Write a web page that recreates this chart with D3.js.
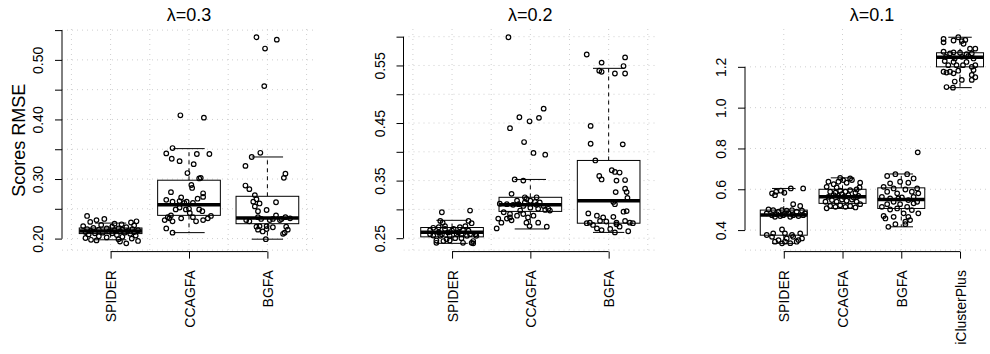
<!DOCTYPE html>
<html>
<head>
<meta charset="utf-8">
<script src="https://cdn.jsdelivr.net/npm/d3@7"></script>
<style>
  body { margin: 0; background: #fff; }
  svg { display: block; font-family: "Liberation Sans", Arial, Helvetica, sans-serif; }
</style>
</head>
<body>
<svg id="chart" width="990" height="354"></svg>
<script>
// #region data
const methods3 = ["SPIDER", "CCAGFA", "BGFA"];
const methods4 = ["SPIDER", "CCAGFA", "BGFA", "iClusterPlus"];
const panelTitles = ["λ=0.3", "λ=0.2", "λ=0.1"];
const yLabel = "Scores RMSE";

// y ticks (all) and the ones R kept a label for
const ticksL3 = [0.20, 0.25, 0.30, 0.35, 0.40, 0.45, 0.50, 0.55];
const labelsL3 = [0.20, 0.30, 0.40, 0.50];
const ticksL2 = [0.25, 0.30, 0.35, 0.40, 0.45, 0.50, 0.55, 0.60];
const labelsL2 = [0.25, 0.35, 0.45, 0.55];
const ticksL1 = [0.4, 0.6, 0.8, 1.0, 1.2];
const labelsL1 = [0.4, 0.6, 0.8, 1.0, 1.2];

// box stats per method: [lower whisker, q1, median, q3, upper whisker]
const boxL3 = [
  [0.198, 0.2084, 0.2128, 0.2178, 0.226],
  [0.210, 0.239, 0.257, 0.298, 0.351],
  [0.199, 0.225, 0.2346, 0.271, 0.337]
];
const boxL2 = [
  [0.241, 0.2523, 0.2605, 0.2685, 0.281],
  [0.266, 0.2965, 0.308, 0.321, 0.352],
  [0.260, 0.276, 0.315, 0.385, 0.545]
];
const boxL1 = [
  [0.335, 0.375, 0.4735, 0.498, 0.604],
  [0.506, 0.531, 0.563, 0.600, 0.656],
  [0.416, 0.506, 0.550, 0.607, 0.675],
  [1.098, 1.200, 1.247, 1.269, 1.345]
];

// jittered observations: [score, offset from category centre]
const l3Spider = [
  [0.238,-0.30],[0.233,-0.08],[0.231,-0.18],[0.229,0.33],[0.228,-0.26],[0.227,0.26],[0.225,0.05],
  [0.224,0.14],[0.223,-0.12],[0.222,0.30],[0.221,-0.35],[0.220,0.02],[0.219,0.20],[0.218,-0.22],
  [0.217,0.10],[0.217,-0.05],[0.216,0.28],[0.216,-0.30],[0.215,0.15],[0.215,-0.15],[0.214,0.05],
  [0.214,0.35],[0.213,-0.25],[0.213,0.22],[0.212,-0.02],[0.212,0.12],[0.211,-0.32],[0.211,0.30],
  [0.210,-0.10],[0.210,0.18],[0.209,0.02],[0.209,-0.20],[0.208,0.25],[0.207,-0.28],[0.206,0.08],
  [0.205,0.32],[0.204,-0.15],[0.203,0.15],[0.202,-0.05],[0.201,-0.32],[0.200,0.27],[0.199,0.10],
  [0.198,-0.25],[0.197,-0.18],[0.196,0.35],[0.195,0.12],[0.192,0.20]
];
const l3Ccagfa = [
  [0.407,-0.11],[0.403,0.19],[0.352,-0.21],[0.343,-0.29],[0.334,-0.22],[0.330,-0.12],[0.342,0.10],
  [0.342,0.26],[0.325,0.06],[0.310,-0.02],[0.301,0.13],[0.302,0.15],[0.290,0.03],[0.285,0.04],
  [0.278,-0.23],[0.276,0.18],[0.269,-0.10],[0.265,-0.29],[0.267,0.11],[0.270,0.18],[0.262,-0.21],
  [0.262,-0.03],[0.260,0.05],[0.252,-0.12],[0.249,-0.04],[0.249,0.13],[0.246,0.17],[0.243,0.01],
  [0.249,-0.17],[0.239,-0.23],[0.234,-0.10],[0.234,-0.25],[0.231,-0.31],[0.236,-0.27],[0.236,0.05],
  [0.234,0.24],[0.238,0.28],[0.229,0.09],[0.231,0.18],[0.217,-0.29],[0.210,-0.21],[0.250,0.00],
  [0.229,-0.21],[0.263,-0.12],[0.260,-0.06]
];
const l3Bgfa = [
  [0.538,-0.14],[0.534,0.12],[0.519,-0.03],[0.456,-0.04],[0.344,-0.09],[0.337,-0.20],[0.322,-0.28],
  [0.309,0.23],[0.302,0.21],[0.289,-0.28],[0.283,-0.23],[0.273,-0.16],[0.266,-0.14],[0.262,-0.18],
  [0.259,-0.10],[0.261,0.11],[0.246,-0.12],[0.248,-0.01],[0.231,-0.27],[0.229,-0.23],[0.233,-0.08],
  [0.233,0.07],[0.231,0.16],[0.236,0.23],[0.234,0.29],[0.221,-0.10],[0.221,-0.01],[0.219,0.07],
  [0.215,-0.12],[0.212,-0.06],[0.216,-0.01],[0.220,0.24],[0.215,0.26],[0.210,0.22],[0.208,0.20],
  [0.199,-0.02],[0.220,-0.14],[0.233,0.18],[0.239,0.11],[0.231,0.03],[0.254,-0.16],[0.236,-0.12]
];

const l2Spider = [
  [0.295,-0.13],[0.298,0.23],[0.280,-0.15],[0.277,-0.12],[0.280,0.21],[0.264,-0.28],[0.268,-0.24],
  [0.269,-0.17],[0.266,-0.09],[0.263,0.00],[0.260,0.08],[0.264,0.14],[0.276,0.25],[0.257,0.23],
  [0.254,0.31],[0.257,0.30],[0.2545,-0.24],[0.254,-0.15],[0.248,-0.07],[0.250,0.04],[0.250,0.12],
  [0.254,0.19],[0.245,0.27],[0.242,-0.20],[0.245,-0.11],[0.246,-0.03],[0.242,0.14],[0.242,0.25],
  [0.246,-0.20],[0.241,0.27],[0.257,-0.13],[0.260,-0.05],[0.271,-0.09],[0.266,0.02],[0.269,0.10],
  [0.271,0.17],[0.257,0.06],[0.254,-0.03],[0.257,-0.28],[0.263,0.21],[0.260,-0.17],[0.257,0.12]
];
const l2Ccagfa = [
  [0.599,-0.28],[0.475,0.17],[0.460,-0.14],[0.459,0.11],[0.453,-0.01],[0.441,-0.26],[0.417,-0.08],
  [0.398,0.04],[0.395,0.19],[0.352,-0.20],[0.350,-0.09],[0.327,-0.24],[0.321,-0.07],[0.318,-0.05],
  [0.315,0.00],[0.313,0.06],[0.310,-0.39],[0.309,-0.30],[0.308,-0.22],[0.309,-0.15],[0.306,-0.09],
  [0.308,0.08],[0.306,0.17],[0.301,0.23],[0.298,0.25],[0.295,-0.34],[0.292,-0.26],[0.289,-0.17],
  [0.292,-0.09],[0.286,-0.03],[0.289,0.04],[0.301,0.10],[0.299,0.19],[0.284,-0.30],[0.281,-0.24],
  [0.284,-0.41],[0.277,-0.37],[0.277,-0.05],[0.277,0.10],[0.267,-0.43],[0.271,-0.01],[0.270,0.21],
  [0.286,-0.26],[0.298,-0.13],[0.303,0.00],[0.315,-0.17],[0.321,0.08],[0.312,-0.07],[0.312,0.12]
];
const l2Bgfa = [
  [0.569,-0.28],[0.564,0.21],[0.555,-0.09],[0.549,0.19],[0.541,-0.12],[0.539,-0.09],[0.536,0.08],
  [0.536,0.21],[0.445,-0.23],[0.414,-0.23],[0.413,0.18],[0.385,-0.17],[0.358,-0.12],[0.352,-0.09],
  [0.368,0.04],[0.365,0.08],[0.364,0.14],[0.350,0.10],[0.351,0.21],[0.330,0.09],[0.336,0.21],
  [0.330,0.23],[0.309,0.08],[0.313,0.06],[0.320,0.24],[0.296,0.19],[0.297,0.23],[0.293,-0.26],
  [0.289,-0.15],[0.286,-0.07],[0.287,0.06],[0.276,-0.28],[0.273,-0.20],[0.280,-0.11],[0.279,-0.03],
  [0.277,0.10],[0.280,0.21],[0.277,0.27],[0.276,0.31],[0.267,-0.15],[0.264,-0.09],[0.266,0.02],
  [0.270,0.14],[0.260,0.08],[0.262,0.25],[0.277,-0.24],[0.274,0.10]
];

const l1Spider = [
  [0.580,-0.20],[0.588,-0.13],[0.593,-0.05],[0.583,0.01],[0.604,0.12],[0.604,0.33],[0.571,-0.15],
  [0.527,0.16],[0.518,0.28],[0.501,-0.26],[0.498,-0.18],[0.490,-0.09],[0.498,-0.03],[0.495,0.05],
  [0.498,0.14],[0.490,0.22],[0.495,0.31],[0.482,0.36],[0.482,-0.29],[0.473,-0.20],[0.478,-0.12],
  [0.473,-0.01],[0.482,0.08],[0.473,0.16],[0.469,0.25],[0.473,0.33],[0.465,-0.15],[0.469,-0.06],
  [0.465,0.11],[0.482,0.02],[0.376,-0.29],[0.384,-0.18],[0.403,-0.03],[0.384,0.02],[0.376,0.14],
  [0.384,0.28],[0.367,-0.20],[0.351,-0.09],[0.359,0.05],[0.367,0.16],[0.351,0.25],[0.343,-0.15],
  [0.335,-0.03],[0.336,0.11],[0.343,0.22],[0.359,0.31],[0.343,0.02]
];
const l1Ccagfa = [
  [0.507,-0.27],[0.518,-0.21],[0.514,-0.12],[0.522,-0.04],[0.514,0.05],[0.518,0.13],[0.511,0.22],
  [0.527,0.30],[0.539,-0.29],[0.547,-0.18],[0.539,-0.10],[0.550,-0.01],[0.544,0.07],[0.550,0.16],
  [0.539,0.24],[0.563,-0.24],[0.571,-0.15],[0.567,-0.07],[0.563,0.02],[0.571,0.10],[0.560,0.19],
  [0.567,0.27],[0.588,-0.21],[0.583,-0.12],[0.593,-0.04],[0.588,0.05],[0.596,0.13],[0.599,0.24],
  [0.609,0.29],[0.612,-0.27],[0.625,-0.15],[0.637,-0.07],[0.632,0.07],[0.645,0.16],[0.632,0.30],
  [0.637,-0.24],[0.656,-0.04],[0.653,0.13],[0.645,0.01],[0.609,-0.10],[0.583,0.22],[0.576,-0.01]
];
const l1Bgfa = [
  [0.781,0.28],[0.674,-0.10],[0.674,0.10],[0.665,-0.24],[0.653,0.21],[0.637,-0.02],[0.632,0.12],
  [0.629,-0.19],[0.612,-0.30],[0.604,-0.13],[0.599,0.07],[0.604,0.27],[0.588,0.18],[0.588,-0.24],
  [0.580,-0.07],[0.580,0.29],[0.563,-0.33],[0.555,-0.19],[0.560,0.01],[0.547,0.12],[0.531,0.21],
  [0.539,0.27],[0.539,-0.13],[0.527,-0.24],[0.527,-0.02],[0.514,0.10],[0.514,-0.33],[0.501,-0.19],
  [0.506,-0.07],[0.498,0.18],[0.482,0.29],[0.482,0.04],[0.469,-0.30],[0.465,-0.13],[0.465,0.12],
  [0.457,-0.27],[0.441,0.07],[0.449,0.15],[0.429,-0.10],[0.416,-0.22],[0.429,0.07],[0.555,-0.05],
  [0.563,0.21]
];
const l1Icluster = [
  [1.337,-0.28],[1.320,-0.28],[1.329,-0.11],[1.345,-0.03],[1.326,0.03],[1.332,0.09],[1.313,0.06],
  [1.289,0.17],[1.289,0.26],[1.274,-0.28],[1.266,-0.17],[1.271,-0.11],[1.269,0.00],[1.262,0.11],
  [1.266,0.20],[1.249,-0.24],[1.241,-0.09],[1.249,0.03],[1.252,0.14],[1.241,0.23],[1.228,-0.26],
  [1.224,-0.11],[1.208,0.05],[1.200,0.20],[1.208,0.26],[1.176,-0.28],[1.172,-0.23],[1.176,-0.17],
  [1.168,-0.11],[1.181,-0.03],[1.184,0.23],[1.160,0.20],[1.149,0.26],[1.136,0.20],[1.128,-0.09],
  [1.101,-0.23],[1.098,-0.12],[1.136,0.03],[1.224,0.11],[1.208,-0.06],[1.208,-0.20]
];
// #endregion


// #region layout
const panels = [
  { title: panelTitles[0], methods: methods3, stats: boxL3, points: [l3Spider, l3Ccagfa, l3Bgfa],
    ticks: ticksL3, labels: labelsL3, fmt: d3.format(".2f"), left: 62, right: 316 },
  { title: panelTitles[1], methods: methods3, stats: boxL2, points: [l2Spider, l2Ccagfa, l2Bgfa],
    ticks: ticksL2, labels: labelsL2, fmt: d3.format(".2f"), left: 403.5, right: 657.2 },
  { title: panelTitles[2], methods: methods4, stats: boxL1, points: [l1Spider, l1Ccagfa, l1Bgfa, l1Icluster],
    ticks: ticksL1, labels: labelsL1, fmt: d3.format(".1f"), left: 745, right: 998.8 }
];
const TOP = 29, BOTTOM = 251.6;
const TICK = 7;
const FONT_AXIS = 14, FONT_BIG = 18;
// #endregion


const svg = d3.select("#chart");

panels.forEach((p, pi) => DrawPanel(p, pi));

// y axis title, left of the first panel
svg.append("text")
  .attr("transform", "translate(18.5," + ((TOP + BOTTOM) / 2) + ") rotate(-90)")
  .attr("text-anchor", "middle")
  .attr("dy", "0.36em")
  .style("font-size", FONT_BIG + "px")
  .text(yLabel);


function DrawPanel(p, pi) {
  const n = p.methods.length;

  // R style: usr extended 4% beyond the data
  const allVals = [];
  p.points.forEach(arr => arr.forEach(d => allVals.push(d[0])));
  p.stats.forEach(s => s.forEach(v => allVals.push(v)));
  const vmin = d3.min(allVals), vmax = d3.max(allVals);
  const pad = (vmax - vmin) * 0.04;

  const x = d3.scaleLinear()
    .domain([0.5 - n * 0.04, n + 0.5 + n * 0.04])
    .range([p.left, p.right]);
  const y = d3.scaleLinear()
    .domain([vmin - pad, vmax + pad])
    .range([BOTTOM, TOP]);

  const g = svg.append("g");

  // clip for grid
  const clipId = "clip" + pi;
  g.append("clipPath").attr("id", clipId)
    .append("rect")
    .attr("x", p.left).attr("y", TOP)
    .attr("width", p.right - p.left).attr("height", BOTTOM - TOP);

  // grid
  const grid = g.append("g").attr("clip-path", "url(#" + clipId + ")")
    .attr("stroke", "#cfcfcf").attr("stroke-width", 1)
    .attr("stroke-dasharray", "1,4").attr("fill", "none");

  x.ticks(5).forEach(v => {
    grid.append("line")
      .attr("x1", x(v)).attr("x2", x(v))
      .attr("y1", TOP).attr("y2", BOTTOM);
  });
  p.ticks.concat([y.domain()[0]]).forEach(v => {
    let yy = Math.min(y(v), BOTTOM - 1.5);
    grid.append("line")
      .attr("x1", p.left).attr("x2", p.right)
      .attr("y1", yy).attr("y2", yy);
  });

  // boxes
  const boxHalf = 0.4, capHalf = 0.2;
  p.stats.forEach((s, i) => {
    const c = i + 1;
    const bx = g.append("g").attr("stroke", "#000").attr("stroke-width", 1);

    // whiskers
    bx.append("line")
      .attr("x1", x(c)).attr("x2", x(c))
      .attr("y1", y(s[3])).attr("y2", y(s[4]))
      .attr("stroke-dasharray", "4,4");
    bx.append("line")
      .attr("x1", x(c)).attr("x2", x(c))
      .attr("y1", y(s[1])).attr("y2", y(s[0]))
      .attr("stroke-dasharray", "4,4");
    [s[0], s[4]].forEach(v => {
      bx.append("line")
        .attr("x1", x(c - capHalf)).attr("x2", x(c + capHalf))
        .attr("y1", y(v)).attr("y2", y(v));
    });

    bx.append("rect")
      .attr("x", x(c - boxHalf)).attr("width", x(c + boxHalf) - x(c - boxHalf))
      .attr("y", y(s[3])).attr("height", y(s[1]) - y(s[3]))
      .attr("fill", "#fff");

    bx.append("line")
      .attr("x1", x(c - boxHalf)).attr("x2", x(c + boxHalf))
      .attr("y1", y(s[2])).attr("y2", y(s[2]))
      .attr("stroke-width", 3.5);
  });

  // jittered points
  p.points.forEach((arr, i) => {
    const c = i + 1;
    g.append("g").selectAll("circle")
      .data(arr)
      .join("circle")
      .attr("cx", d => x(c + d[1]))
      .attr("cy", d => y(d[0]))
      .attr("r", 2.3)
      .attr("fill", "none")
      .attr("stroke", "#000")
      .attr("stroke-width", 1.2);
  });

  // y axis
  const isLabel = d => p.labels.some(l => Math.abs(l - d) < 1e-9);
  const gy = g.append("g")
    .attr("transform", "translate(" + p.left + ",0)")
    .call(d3.axisLeft(y).tickValues(p.ticks).tickSize(TICK).tickSizeOuter(0)
      .tickFormat(d => isLabel(d) ? p.fmt(d) : ""));
  gy.select(".domain").remove();
  gy.append("line")
    .attr("y1", y(p.ticks[0])).attr("y2", y(p.ticks[p.ticks.length - 1]))
    .attr("stroke", "#000");
  gy.attr("font-size", FONT_AXIS).attr("font-family", null);
  gy.selectAll(".tick text")
    .attr("transform", "rotate(-90)")
    .attr("x", 0).attr("y", -24).attr("dy", "0.36em")
    .attr("text-anchor", "middle")
    .attr("fill", "#000");

  // x axis
  const gx = g.append("g")
    .attr("transform", "translate(0," + BOTTOM + ")")
    .call(d3.axisBottom(x).tickValues(d3.range(1, n + 1)).tickSize(TICK).tickSizeOuter(0)
      .tickFormat(i => p.methods[i - 1]));
  gx.select(".domain").remove();
  gx.append("line")
    .attr("x1", x(1)).attr("x2", x(n))
    .attr("stroke", "#000");
  gx.attr("font-size", FONT_AXIS).attr("font-family", null);
  gx.selectAll(".tick text")
    .attr("transform", "rotate(-90)")
    .attr("x", -18.5).attr("y", 0).attr("dy", "0.36em")
    .attr("text-anchor", "end")
    .attr("fill", "#000");

  // title
  g.append("text")
    .attr("x", (p.left + p.right) / 2)
    .attr("y", 20.5)
    .attr("text-anchor", "middle")
    .style("font-size", "18px")
    .text(p.title);
}
</script>
</body>
</html>
